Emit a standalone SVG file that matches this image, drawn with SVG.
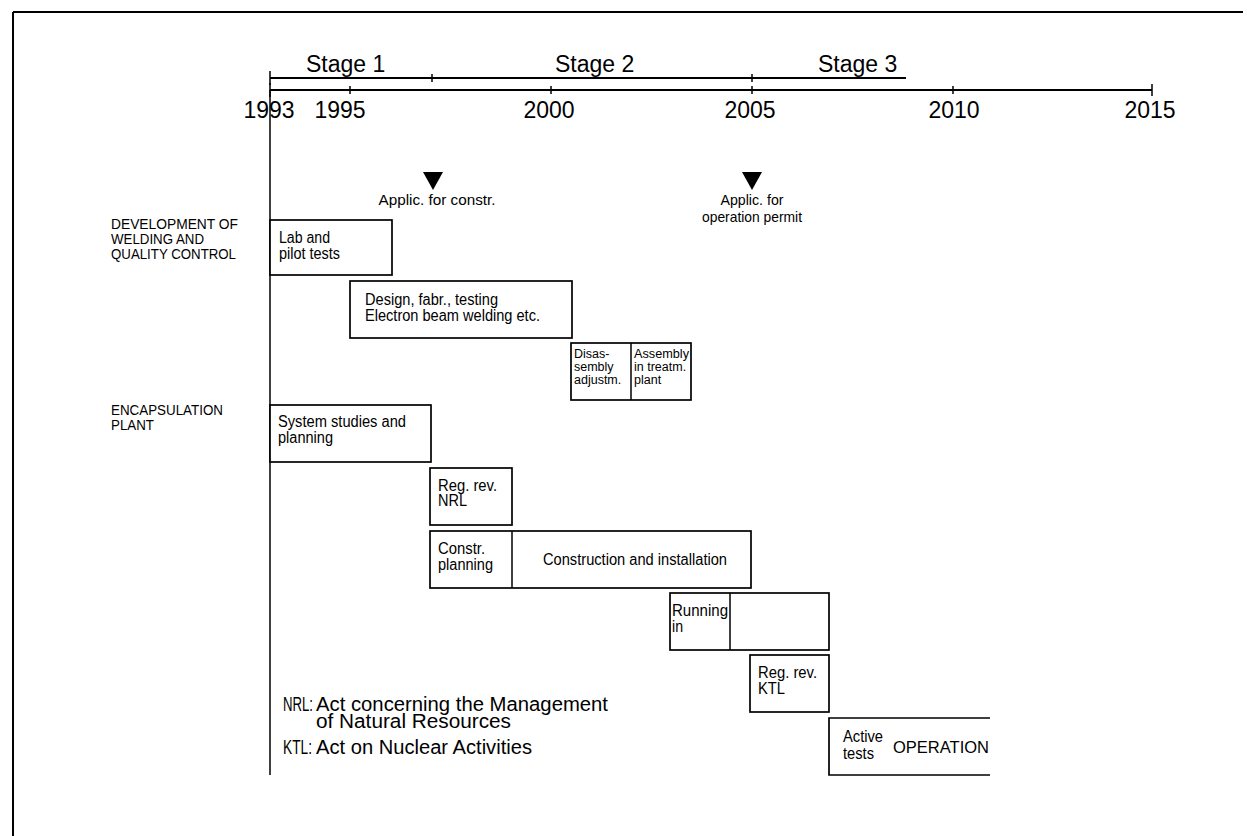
<svg xmlns="http://www.w3.org/2000/svg" width="1256" height="836" viewBox="0 0 1256 836">
<style>
.ln{stroke:#000;stroke-width:2;fill:none}
.thin{stroke:#000;stroke-width:1.5;fill:none}
.box{stroke:#000;stroke-width:1.7;fill:#fff}
text{font-family:"Liberation Sans",Arial,sans-serif;fill:#000}
.big{font-size:23px}
.lbl{font-size:14px}
.bx{font-size:16px}
.ap{font-size:15px}
.sm{font-size:12.5px}
.leg{font-size:20px}
</style>
<rect width="1256" height="836" fill="#fff"/>
<g id="frame">
<line class="ln" x1="13" y1="12" x2="1243" y2="12"/>
<line class="ln" x1="13" y1="12" x2="13" y2="836"/>
</g>
<g id="stages">
<line class="ln" x1="270" y1="78" x2="906" y2="78"/>
<line class="thin" x1="270" y1="71" x2="270" y2="85"/>
<line class="thin" x1="432" y1="74" x2="432" y2="82"/>
<line class="thin" x1="752" y1="74" x2="752" y2="82"/>
<text class="big" x="306" y="72">Stage 1</text>
<text class="big" x="555" y="72">Stage 2</text>
<text class="big" x="818" y="72">Stage 3</text>
</g>
<g id="axis">
<line class="ln" x1="270" y1="90" x2="1152" y2="90"/>
<line class="thin" x1="270" y1="83" x2="270" y2="97"/>
<line class="thin" x1="350" y1="86" x2="350" y2="94"/>
<line class="thin" x1="551" y1="86" x2="551" y2="94"/>
<line class="thin" x1="752" y1="86" x2="752" y2="94"/>
<line class="thin" x1="953" y1="86" x2="953" y2="94"/>
<line class="thin" x1="1152" y1="84" x2="1152" y2="96"/>
<g text-anchor="middle">
<text class="big" x="269" y="118">1993</text>
<text class="big" x="340" y="118">1995</text>
<text class="big" x="549" y="118">2000</text>
<text class="big" x="750" y="118">2005</text>
<text class="big" x="954" y="118">2010</text>
<text class="big" x="1150" y="118">2015</text>
</g>
</g>
<g id="connectors">
<line class="thin" x1="270" y1="90" x2="270" y2="775"/>
</g>
<g id="milestone-constr">
<polygon points="423,172 443,172 433,190" fill="#000"/>
<text class="ap" x="437" y="205" text-anchor="middle" textLength="117" lengthAdjust="spacingAndGlyphs">Applic. for constr.</text>
</g>
<g id="milestone-operation">
<polygon points="742,172 762,172 752,190" fill="#000"/>
<text class="ap" x="752" y="205" text-anchor="middle" textLength="63" lengthAdjust="spacingAndGlyphs">Applic. for</text>
<text class="ap" x="752" y="222" text-anchor="middle" textLength="100" lengthAdjust="spacingAndGlyphs">operation permit</text>
</g>
<g id="label-welding">
<text class="lbl" x="111" y="229" textLength="127" lengthAdjust="spacingAndGlyphs">DEVELOPMENT OF</text>
<text class="lbl" x="111" y="244" textLength="93" lengthAdjust="spacingAndGlyphs">WELDING AND</text>
<text class="lbl" x="111" y="259" textLength="125" lengthAdjust="spacingAndGlyphs">QUALITY CONTROL</text>
</g>
<g id="label-encapsulation">
<text class="lbl" x="111" y="415" textLength="112" lengthAdjust="spacingAndGlyphs">ENCAPSULATION</text>
<text class="lbl" x="111" y="430" textLength="43" lengthAdjust="spacingAndGlyphs">PLANT</text>
</g>
<g id="lab-tests">
<rect class="box" x="270" y="220" width="122" height="55"/>
<text class="bx" x="279" y="243" textLength="51" lengthAdjust="spacingAndGlyphs">Lab and</text>
<text class="bx" x="279" y="259" textLength="61" lengthAdjust="spacingAndGlyphs">pilot tests</text>
</g>
<g id="design">
<rect class="box" x="350" y="281" width="222" height="57"/>
<text class="bx" x="365" y="305" textLength="133" lengthAdjust="spacingAndGlyphs">Design, fabr., testing</text>
<text class="bx" x="365" y="321" textLength="175" lengthAdjust="spacingAndGlyphs">Electron beam welding etc.</text>
</g>
<g id="disassembly">
<rect class="box" x="571" y="343" width="120" height="57"/>
<line class="thin" x1="631" y1="343" x2="631" y2="400"/>
<text class="sm" x="574" y="358">Disas-</text>
<text class="sm" x="574" y="371">sembly</text>
<text class="sm" x="574" y="384">adjustm.</text>
<text class="sm" x="634" y="358" textLength="55" lengthAdjust="spacingAndGlyphs">Assembly</text>
<text class="sm" x="634" y="371">in treatm.</text>
<text class="sm" x="634" y="384">plant</text>
</g>
<g id="system-studies">
<rect class="box" x="270" y="405" width="161" height="57"/>
<text class="bx" x="278" y="427" textLength="128" lengthAdjust="spacingAndGlyphs">System studies and</text>
<text class="bx" x="278" y="443" textLength="55" lengthAdjust="spacingAndGlyphs">planning</text>
</g>
<g id="regrev-nrl">
<rect class="box" x="430" y="468" width="82" height="57"/>
<text class="bx" x="438" y="491" textLength="59" lengthAdjust="spacingAndGlyphs">Reg. rev.</text>
<text class="bx" x="438" y="506" textLength="29" lengthAdjust="spacingAndGlyphs">NRL</text>
</g>
<g id="construction">
<rect class="box" x="430" y="531" width="321" height="57"/>
<line class="thin" x1="512" y1="531" x2="512" y2="588"/>
<text class="bx" x="438" y="554" textLength="47" lengthAdjust="spacingAndGlyphs">Constr.</text>
<text class="bx" x="438" y="570" textLength="55" lengthAdjust="spacingAndGlyphs">planning</text>
<text class="bx" x="543" y="565" textLength="184" lengthAdjust="spacingAndGlyphs">Construction and installation</text>
</g>
<g id="running-in">
<rect class="box" x="670" y="593" width="159" height="57"/>
<line class="thin" x1="730" y1="593" x2="730" y2="650"/>
<text class="bx" x="672" y="616" textLength="56" lengthAdjust="spacingAndGlyphs">Running</text>
<text class="bx" x="672" y="632" textLength="11" lengthAdjust="spacingAndGlyphs">in</text>
</g>
<g id="regrev-ktl">
<rect class="box" x="750" y="655" width="79" height="57"/>
<text class="bx" x="758" y="678" textLength="59" lengthAdjust="spacingAndGlyphs">Reg. rev.</text>
<text class="bx" x="758" y="694" textLength="27" lengthAdjust="spacingAndGlyphs">KTL</text>
</g>
<g id="operation">
<polyline class="box" points="990,718 829,718 829,775 990,775" fill="none"/>
<text class="bx" x="843" y="742" textLength="40" lengthAdjust="spacingAndGlyphs">Active</text>
<text class="bx" x="843" y="759" textLength="31" lengthAdjust="spacingAndGlyphs">tests</text>
<text class="bx" x="893" y="753" textLength="96" lengthAdjust="spacingAndGlyphs">OPERATION</text>
</g>
<g id="legend">
<text class="leg" x="283" y="711" textLength="30" lengthAdjust="spacingAndGlyphs">NRL:</text>
<text class="leg" x="316" y="711" textLength="292" lengthAdjust="spacingAndGlyphs">Act concerning the Management</text>
<text class="leg" x="316" y="728" textLength="195" lengthAdjust="spacingAndGlyphs">of Natural Resources</text>
<text class="leg" x="283" y="754" textLength="29" lengthAdjust="spacingAndGlyphs">KTL:</text>
<text class="leg" x="316" y="754" textLength="216" lengthAdjust="spacingAndGlyphs">Act on Nuclear Activities</text>
</g>
</svg>
